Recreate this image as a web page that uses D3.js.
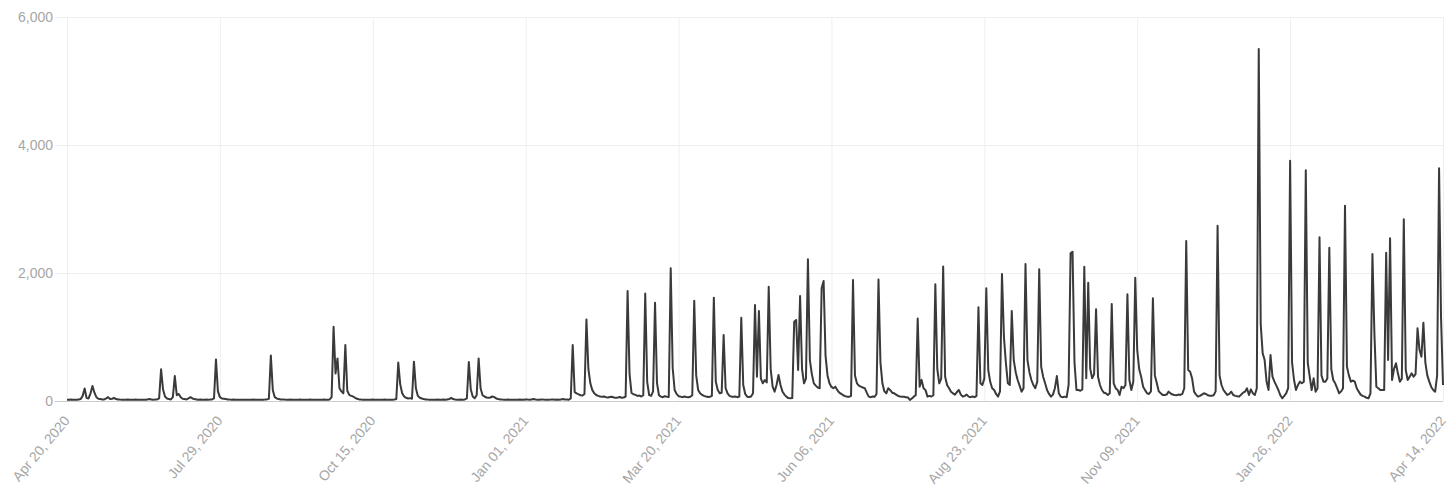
<!DOCTYPE html>
<html><head><meta charset="utf-8">
<script src="https://cdn.jsdelivr.net/npm/d3@7"></script>
<style>
body{margin:0;background:#fff}
svg{display:block;font-family:"Liberation Sans",Arial,Helvetica,sans-serif}
</style>
</head><body>
<svg id="chart" width="1456" height="493"></svg>
<script>
// ---- data ----
const tickLabels = ["Apr 20, 2020","Jul 29, 2020","Oct 15, 2020","Jan 01, 2021","Mar 20, 2021",
  "Jun 06, 2021","Aug 23, 2021","Nov 09, 2021","Jan 26, 2022","Apr 14, 2022"];
const tickIndices = [0,78,156,234,312,390,468,546,624,702];
const yTicks = [0,2000,4000,6000];
const values = [
  20,20,22,20,18,20,25,30,80,195,
  45,40,120,235,130,60,35,30,25,25,
  40,60,30,35,50,30,25,22,20,20,
  20,22,20,18,20,22,20,20,18,20,
  20,25,30,25,20,22,25,40,495,180,
  70,40,30,25,60,390,90,110,60,35,
  30,25,40,60,40,30,25,20,22,20,
  20,22,20,22,25,40,650,150,60,40,
  35,30,25,22,20,22,20,20,18,20,
  20,20,18,20,20,22,20,20,18,20,
  20,22,25,35,710,170,60,40,30,25,
  25,22,20,20,22,20,18,20,20,22,
  20,20,18,20,22,20,20,18,20,20,
  20,22,20,20,25,60,1160,430,665,200,
  150,120,875,160,95,80,70,50,35,25,
  22,20,20,18,20,20,22,20,20,18,
  20,20,22,20,20,18,20,22,30,600,
  260,120,70,50,40,45,35,615,200,80,
  50,40,30,25,22,20,20,18,20,22,
  20,20,22,20,25,30,50,30,22,20,
  20,22,20,25,40,610,180,70,42,90,
  665,200,90,70,55,50,55,70,60,40,
  30,25,22,20,20,22,20,18,20,20,
  20,22,20,20,25,22,20,25,30,22,
  20,20,25,22,20,18,20,22,25,20,
  22,20,25,30,22,25,20,40,875,140,
  120,105,90,85,110,1275,500,276,170,120,
  94,80,70,65,70,60,55,62,68,55,
  50,55,62,50,55,70,1720,420,125,105,
  95,80,85,70,90,1680,300,94,80,150,
  1535,280,90,68,60,75,68,62,2075,520,
  172,110,75,68,60,70,62,58,65,90,
  1565,400,172,120,95,80,70,62,65,80,
  1615,300,172,120,130,1030,200,120,80,68,
  65,70,60,68,1300,250,110,68,62,70,
  120,1500,380,1406,350,276,328,290,1786,500,
  224,146,250,406,250,150,100,68,45,42,
  45,1240,1266,484,1640,500,276,350,2214,640,
  420,276,240,210,200,1760,1875,700,400,276,
  220,200,224,170,130,110,90,75,68,65,
  80,1890,400,276,240,224,210,200,130,68,
  60,70,65,110,1900,600,276,150,120,200,
  170,130,120,100,80,70,68,65,60,55,
  16,40,68,90,1290,224,330,200,170,68,
  80,70,90,1823,500,276,350,2100,380,250,
  200,146,120,100,140,172,100,68,80,100,
  68,60,70,60,80,1465,276,250,350,1760,
  484,300,200,172,110,68,150,1985,1000,594,
  276,250,1405,640,450,328,240,146,200,2140,
  640,450,328,250,200,300,2060,535,380,276,
  172,110,68,100,200,390,120,68,60,68,
  60,250,2307,2333,600,172,172,160,180,2099,
  354,1849,510,354,420,1432,380,250,172,130,
  120,94,120,1516,276,200,172,94,224,200,
  250,1667,328,172,300,1927,797,500,380,224,
  170,120,110,150,1604,400,276,150,120,94,
  94,100,146,120,100,94,90,100,94,110,
  200,2500,484,458,354,146,100,68,80,100,
  120,110,90,83,83,90,150,2740,400,250,
  172,130,94,110,146,94,80,75,68,100,
  130,146,198,94,182,120,94,200,5500,1200,
  745,640,300,172,719,380,302,240,172,90,
  42,80,120,200,3755,600,328,172,250,302,
  276,300,3605,600,380,172,354,146,200,2557,
  400,302,300,350,2395,500,328,276,200,120,
  150,200,3052,536,400,302,320,302,200,146,
  100,80,68,50,42,120,2297,1057,224,200,
  172,172,172,2317,640,2542,328,500,589,432,
  302,350,2839,484,328,380,432,380,420,1135,
  800,692,1224,600,400,302,220,172,146,400,
  3635,1300,250
];

// ---- layout ----
const W = 1456, H = 493;
const m = {l: 67, r: 13, t: 17, b: 92};
const svg = d3.select("#chart");

const x = d3.scaleLinear().domain([0, values.length - 1]).range([m.l, W - m.r]);
const y = d3.scaleLinear().domain([0, 6000]).range([H - m.b, m.t]);

// y axis with horizontal gridlines
const yAxis = svg.append("g")
  .attr("transform", `translate(55,0)`)
  .call(d3.axisLeft(y).tickValues(yTicks).tickFormat(d3.format(","))
    .tickSize(-(W - m.r - 55)).tickPadding(2));
yAxis.select(".domain").remove();
yAxis.selectAll(".tick line").attr("stroke", d => d === 0 ? "#cccccc" : "#efefef").attr("stroke-width", 1);
yAxis.selectAll(".tick text").attr("fill", "#a6a6a6").style("font-size", "14px")
  .style("font-family", '"Liberation Sans",Arial,sans-serif');

// x axis with vertical gridlines
const xAxis = svg.append("g")
  .attr("transform", `translate(0,${H - m.b})`)
  .call(d3.axisBottom(x).tickValues(tickIndices).tickFormat((d, i) => tickLabels[i])
    .tickSize(-(H - m.b - m.t)).tickPadding(0));
xAxis.select(".domain").remove();
xAxis.selectAll(".tick line").attr("stroke", "#efefef").attr("stroke-width", 1);
xAxis.selectAll(".tick text")
  .attr("fill", "#a6a6a6").style("font-size", "14px")
  .style("font-family", '"Liberation Sans",Arial,sans-serif')
  .attr("text-anchor", "end")
  .attr("x", 0).attr("y", 0).attr("dy", 0)
  .attr("transform", "translate(3,20) rotate(-50)");

// zero baseline drawn over the vertical grid
svg.append("line")
  .attr("x1", 55).attr("x2", W - m.r)
  .attr("y1", y(0) + 0.5).attr("y2", y(0) + 0.5)
  .attr("stroke", "#cccccc").attr("stroke-width", 1);

// line
const line = d3.line().x((d, i) => x(i)).y(d => y(d)).curve(d3.curveLinear);
svg.append("path")
  .datum(values)
  .attr("fill", "none")
  .attr("stroke", "#3a3a3a")
  .attr("stroke-width", 2)
  .attr("stroke-linejoin", "round")
  .attr("d", line);
</script>
</body></html>
